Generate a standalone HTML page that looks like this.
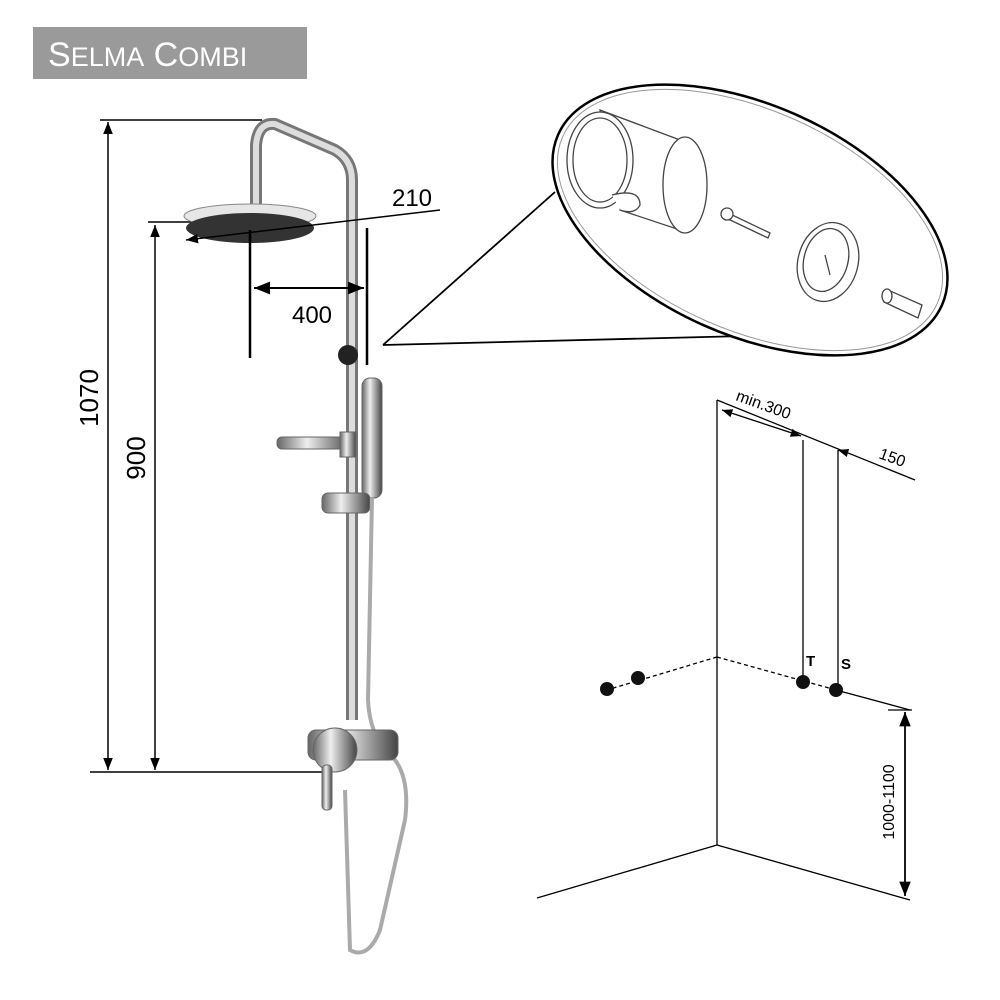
<!DOCTYPE html>
<html><head><meta charset="utf-8"><style>
html,body{margin:0;padding:0;background:#fff}
svg{display:block}
text{font-family:"Liberation Sans",Arial,sans-serif}
</style></head><body>
<svg width="1000" height="1000" viewBox="0 0 1000 1000" xmlns="http://www.w3.org/2000/svg">
<defs>
<marker id="a" viewBox="0 0 10 10" refX="10" refY="5" markerWidth="8" markerHeight="8" orient="auto-start-reverse"><path d="M0,1 L10,5 L0,9 z" fill="#000"/></marker>
<linearGradient id="chrome" x1="0" x2="1"><stop offset="0" stop-color="#666"/><stop offset="0.4" stop-color="#eee"/><stop offset="0.7" stop-color="#999"/><stop offset="1" stop-color="#444"/></linearGradient>
</defs>
<rect x="33" y="27" width="274" height="52" fill="#9a9a9a"/>
<text x="48" y="66" fill="#fff" font-size="34">S<tspan font-size="27">ELMA</tspan> C<tspan font-size="27">OMBI</tspan></text>

<g stroke="#000" stroke-width="1.5" fill="none">
<line x1="100" y1="120" x2="262" y2="120"/>
<line x1="108" y1="122" x2="108" y2="770" marker-start="url(#a)" marker-end="url(#a)"/>
<line x1="148" y1="222" x2="192" y2="222"/>
<line x1="155" y1="225" x2="155" y2="770" marker-start="url(#a)" marker-end="url(#a)"/>
<line x1="90" y1="772" x2="330" y2="772"/>
</g>

<!-- shower -->
<path d="M256,205 L256,145 Q258,122 275,124 L335,150 Q352,160 352,180 L352,720" stroke="#777" stroke-width="12" fill="none"/>
<path d="M256,205 L256,145 Q258,122 275,124 L335,150 Q352,160 352,180 L352,720" stroke="#ddd" stroke-width="6" fill="none"/>
<ellipse cx="250" cy="216" rx="66" ry="12" fill="#e6e6e6" stroke="#888"/>
<ellipse cx="250" cy="228" rx="64" ry="15" fill="#333"/>
<circle cx="348" cy="355" r="10" fill="#222"/>
<rect x="277" y="437" width="75" height="12" rx="5" fill="url(#chrome)" stroke="#666"/>
<rect x="340" y="432" width="16" height="25" fill="url(#chrome)" stroke="#666"/>
<rect x="362" y="378" width="20" height="120" rx="8" fill="url(#chrome)" stroke="#666"/>
<rect x="322" y="493" width="48" height="20" rx="6" fill="url(#chrome)" stroke="#666"/>
<path d="M372,498 L368,700 Q370,740 395,760 Q410,780 405,820 L380,930 Q368,960 350,950 L345,790" stroke="#aaa" stroke-width="4" fill="none"/>
<rect x="308" y="730" width="90" height="30" rx="8" fill="url(#chrome)" stroke="#666"/>
<circle cx="335" cy="750" r="22" fill="url(#chrome)" stroke="#666"/>
<rect x="322" y="765" width="10" height="45" rx="4" fill="url(#chrome)" stroke="#666"/>

<g stroke="#000" stroke-width="1.5" fill="none">
<line x1="250" y1="230" x2="250" y2="358" stroke-width="2.5"/>
<line x1="367" y1="228" x2="367" y2="365" stroke-width="2.5"/>
<line x1="254" y1="288" x2="364" y2="288" stroke-width="2" marker-start="url(#a)" marker-end="url(#a)"/>
<line x1="186" y1="240" x2="440" y2="210" marker-start="url(#a)"/>
</g>
<text transform="translate(98,398) rotate(-90)" font-size="26" text-anchor="middle">1070</text>
<text transform="translate(145,458) rotate(-90)" font-size="26" text-anchor="middle">900</text>
<text x="312" y="323" font-size="24" text-anchor="middle">400</text>
<text x="412" y="206" font-size="24" text-anchor="middle">210</text>

<!-- callout -->
<g stroke="#000" stroke-width="1.8" fill="none">
<line x1="383" y1="345" x2="555" y2="192"/>
<line x1="383" y1="345" x2="745" y2="336"/>
<ellipse cx="750" cy="220" rx="210" ry="115" transform="rotate(24 750 220)" fill="#fff" stroke-width="2.5"/>
<ellipse cx="750" cy="220" rx="205" ry="110" transform="rotate(24 750 220)" stroke="#999" stroke-width="1"/>
</g>
<g stroke="#444" stroke-width="1.3" fill="#fff">
<path d="M600,110 L680,140 L680,230 L620,210 Z"/>
<ellipse cx="685" cy="185" rx="22" ry="48"/>
<ellipse cx="600" cy="160" rx="33" ry="48"/>
<ellipse cx="600" cy="160" rx="27" ry="42"/>
<path d="M612,195 Q640,188 640,205 Q635,215 620,210"/>
<path d="M728,213 L770,233 L768,238 L726,218 Z"/>
<circle cx="727" cy="214" r="6"/>
<ellipse cx="828" cy="262" rx="30" ry="40" transform="rotate(15 828 262)"/>
<ellipse cx="826" cy="260" rx="22" ry="32" transform="rotate(15 826 260)"/>
<line x1="825" y1="255" x2="830" y2="275"/>
<path d="M888,290 L922,305 L918,318 L884,302 Z"/>
<ellipse cx="887" cy="296" rx="5" ry="7"/>
</g>

<!-- right diagram -->
<g stroke="#000" stroke-width="1.3" fill="none">
<line x1="717" y1="400" x2="717" y2="845"/>
<line x1="717" y1="845" x2="537" y2="898"/>
<line x1="717" y1="845" x2="910" y2="900"/>
<line x1="717" y1="400" x2="915" y2="480"/>
<line x1="722" y1="410" x2="801" y2="436" marker-start="url(#a)" marker-end="url(#a)"/>
<line x1="848" y1="453" x2="838" y2="450" marker-end="url(#a)"/>
<line x1="803" y1="440" x2="803" y2="680"/>
<line x1="838" y1="450" x2="838" y2="688"/>
<line x1="717" y1="657" x2="607" y2="690" stroke-dasharray="4,3"/>
<line x1="717" y1="657" x2="836" y2="690" stroke-dasharray="4,3"/>
<line x1="836" y1="690" x2="910" y2="710"/>
<line x1="905" y1="712" x2="905" y2="896" stroke-width="1.8" marker-start="url(#a)" marker-end="url(#a)"/>
<line x1="888" y1="710" x2="912" y2="710"/>
</g>
<g fill="#111">
<circle cx="607" cy="689" r="7"/><circle cx="638" cy="678" r="7"/>
<circle cx="803" cy="682" r="7"/><circle cx="836" cy="690" r="7"/>
</g>
<text transform="translate(735,400) rotate(20)" font-size="16">min.300</text>
<text transform="translate(878,458) rotate(20)" font-size="16">150</text>
<text x="806" y="666" font-size="15" font-weight="bold">T</text>
<text x="841" y="669" font-size="15" font-weight="bold">S</text>
<text transform="translate(894,802) rotate(-90)" font-size="16" text-anchor="middle">1000-1100</text>
</svg>
</body></html>
